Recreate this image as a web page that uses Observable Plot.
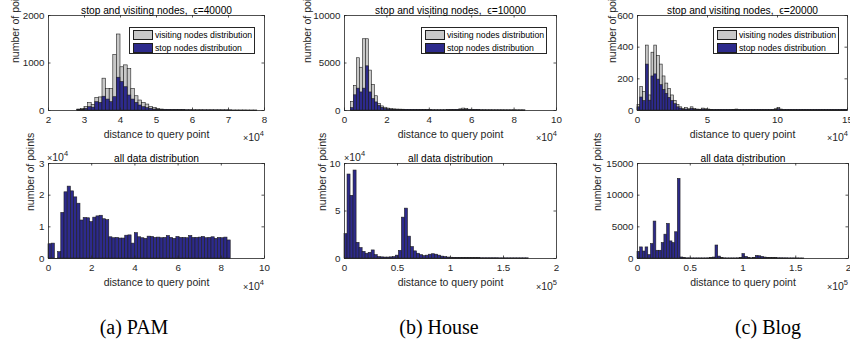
<!DOCTYPE html>
<html><head><meta charset="utf-8">
<script src="https://cdn.jsdelivr.net/npm/d3@7"></script>
<script src="https://cdn.jsdelivr.net/npm/@observablehq/plot@0.6"></script>
<style>
html,body{margin:0;padding:0;background:#fff;overflow:hidden}
#fig{position:relative;width:850px;height:360px;font-family:"Liberation Sans",Arial,sans-serif;color:#262626}
#fig svg{position:absolute;left:0;top:0}
.ov{position:absolute;white-space:nowrap;line-height:1}
.legend{position:absolute;border:0.8px solid #262626;background:#fff;box-sizing:border-box}
.legend .row{position:absolute;left:3px;height:11px;display:flex;align-items:center;font-size:8.7px;color:#000}
.legend .sw{width:20px;height:10px;border:0.8px solid #1e1e1e;box-sizing:border-box;margin-right:2px}
.cap{position:absolute;font-family:"Liberation Serif","Times New Roman",serif;font-size:20px;color:#000;transform:translateX(-50%);white-space:nowrap}
</style></head>
<body><div id="fig"></div>
<script>
// ---- data (bin start, bin width, counts) ----
const pamSVStart = 28000, pamSVWidth = 1000;
const pamVisit = [20,35,70,155,120,265,275,670,450,455,1170,1600,910,950,870,455,300,210,160,125,70,50,35,20,15,12,10,10,8,8,6,6,5,5,5,4,4,4,3,3,3,3,2,2,2,2,2,1,1,1];
const pamStop  = [10,15,35,70,60,175,160,290,230,175,280,690,600,490,315,230,160,105,70,50,35,20,15,10,5,4,3,3,2,2,2,2,1,1,1,1,1,1,1,1,1,1,1,0,0,0,0,0,0,0];

const houseSVStart = 3000, houseSVWidth = 1420;
const houseVisit = [900,2600,5500,4500,7500,7500,4200,2700,1500,700,430,290,200,150,120,100,90,80,70,60,55,50,45,40,40,35,35,30,30,30,30,30,35,40,50,60,120,200,150,80,50,40,35,30,30,25,25,20,20,20,20,15,15,15,15,10,10,10];
const houseStop  = [250,1600,2300,1900,2300,4650,1900,1200,850,500,280,170,110,80,60,50,40,35,30,25,20,18,16,14,12,10,10,10,8,8,8,8,10,12,15,20,40,70,50,25,15,12,10,8,8,6,6,5,5,5,4,4,4,4,3,3,3,3];

const blogSVStart = 0, blogSVWidth = 2000;
const blogVisit = [35,148,117,410,95,365,410,345,290,215,170,135,95,60,35,20,10,15,8,20,10,6,5,12,8,6,4,3,3,3,2,2,3,3,4,6,3,2,2,2,2,2,2,2,2,2,2,2,3,8,15,6,3,2,2,2,2,2,2,2,2,2,2,2,2,2,2,2,2,2,2,2,2,2,2];
const blogStop  = [20,82,60,290,62,215,228,195,160,130,105,80,60,40,20,12,5,6,3,10,5,3,2,6,4,3,2,1,1,1,1,1,1,1,2,3,1,1,1,1,1,1,1,1,1,1,1,1,1,4,8,3,1,1,1,1,1,1,1,1,1,1,1,1,1,1,1,1,1,1,1,1,1,1,1];

const pamAllStart = 0, pamAllWidth = 1480;
const pamAll = [4500,4700,0,2000,14400,20900,22700,21200,19300,17300,12000,12800,12700,11500,12900,13300,13500,12400,12100,6700,6400,6500,6300,6300,7200,7300,4700,8000,6700,6400,6200,6900,6800,6500,6600,6400,6500,7100,6500,6200,6800,6500,6500,6400,7100,6500,6500,6600,6800,6400,6500,6700,6200,6500,6400,6600,5700];

const houseAllStart = 0, houseAllWidth = 2850;
const houseAll = [25600,88400,66000,92600,16500,11000,7000,5000,6000,8500,3500,1500,1200,1000,1000,1200,1500,3000,8000,43000,52500,23000,12000,7500,5000,3500,2500,3000,4000,4500,4000,3000,2000,1500,1000,800,700,600,500,500,500,400,400,400,400,300,300,300,300,300,300,200,200,200,200,200,200,200,200,200,200];

const blogAllStart = 0, blogAllWidth = 2550;
const blogAll = [1060,1750,1100,1750,530,2280,5830,1220,1220,2440,3760,5460,2700,2440,4140,12570,160,50,30,30,20,20,20,20,20,20,30,50,150,2050,300,50,30,20,20,20,20,30,50,700,250,50,30,100,400,350,250,150,100,80,60,50,40,40,30,30,20,20,20,20,10,10];

// tick values
const xTicksPam = [20000,30000,40000,50000,60000,70000,80000];
const xTicksHouse = [0,20000,40000,60000,80000,100000];
const xTicksBlog = [0,50000,100000,150000];
const xTicksAll = [0,20000,40000,60000,80000,100000];
const xTicksAll5 = [0,50000,100000,150000,200000];
const yTicksPam = [0,1000,2000], yTicksHouse = [0,5000,10000], yTicksBlog = [0,200,400,600];
const yTicksPamAll = [0,10000,20000,30000], yTicksHouseAll = [0,50000,100000], yTicksBlogAll = [0,5000,10000,15000];

const titles = ["stop and visiting nodes,  \u03F5=40000","stop and visiting nodes,  \u03F5=10000","stop and visiting nodes,  \u03F5=20000","all data distribution"];
const legendLabels = ["visiting nodes distribution","stop nodes distribution"];
const captions = ["(a) PAM","(b) House","(c) Blog"];

// ---- styles ----
const AX = "#262626", GRAY = "#c8c8c8", BLUE = "#2d2a8c", EDGE = "#1e1e1e";
const fig = document.getElementById("fig");

function bins(start, width, values){ return values.map((v,i)=>({a:start+i*width, b:start+(i+1)*width, v})); }

function panel(o){
  const fw = o.x1-o.x0, fh = o.y1-o.y0, TL = 2.5;
  const marks = [];
  for (const s of o.series){
    const d = bins(s.start, s.width, s.values);
    marks.push(Plot.ruleY([0], {x1: () => d[0].a, x2: () => d[d.length-1].b, stroke: EDGE, strokeWidth: 0.8}));
    marks.push(Plot.rectY(d, {x1:"a", x2:"b", y:"v", fill:s.fill, stroke:EDGE, strokeWidth:0.6}));
  }
  marks.push(Plot.frame({stroke:AX, strokeWidth:0.8}));
  marks.push(Plot.ruleX(o.xTicks, {x:d=>d, insetTop: fh-TL, stroke:AX, strokeWidth:0.8}));
  marks.push(Plot.ruleX(o.xTicks, {x:d=>d, insetBottom: fh-TL, stroke:AX, strokeWidth:0.8}));
  marks.push(Plot.ruleY(o.yTicks, {y:d=>d, insetRight: fw-TL, stroke:AX, strokeWidth:0.8}));
  marks.push(Plot.ruleY(o.yTicks, {y:d=>d, insetLeft: fw-TL, stroke:AX, strokeWidth:0.8}));
  marks.push(Plot.text(o.xTicks, {x:d=>d, text:o.xFmt, frameAnchor:"bottom", dy:12, fontSize:9.8, fill:AX}));
  marks.push(Plot.text(o.yTicks, {y:d=>d, text:o.yFmt, frameAnchor:"left", dx:-4, textAnchor:"end", fontSize:9.8, fill:AX}));
  marks.push(Plot.text(["distance to query point"], {frameAnchor:"bottom", dy:27, fontSize:10.5, fill:AX}));
  marks.push(Plot.text(["number of points"], {frameAnchor:"left", dx:-(o.x0-o.ylabX), rotate:-90, fontSize:10.5, fill:AX}));
  marks.push(Plot.text([o.title], {frameAnchor:"top", dy:-9, fontSize:10.2, fill:"#000"}));
  const svg = Plot.plot({
    width:850, height:360,
    marginLeft:o.x0, marginRight:850-o.x1, marginTop:o.y0, marginBottom:360-o.y1,
    x:{domain:o.xDomain, axis:null},
    y:{domain:o.yDomain, axis:null},
    style:{background:"transparent", fontFamily:"Liberation Sans, Arial, sans-serif", overflow:"visible"},
    marks
  });
  fig.appendChild(svg);
}

function ov(html, left, top, size, anchorRight){
  const el = document.createElement("div");
  el.className = "ov";
  el.innerHTML = html;
  el.style.fontSize = size + "px";
  el.style.top = top + "px";
  if (anchorRight) el.style.right = (850 - left) + "px"; else el.style.left = left + "px";
  fig.appendChild(el);
}
function exp10(p){ return '<span style="font-size:9px">\u00D7</span>10<sup style="font-size:7.5px;vertical-align:5px">' + p + '</sup>'; }

function legend(left, top){
  const el = document.createElement("div");
  el.className = "legend";
  Object.assign(el.style, {left:left+"px", top:top+"px", width:"126px", height:"27px"});
  [[GRAY, legendLabels[0], 1.5], [BLUE, legendLabels[1], 14]].forEach(([c, t, y]) => {
    const r = document.createElement("div"); r.className = "row"; r.style.top = y + "px";
    const sw = document.createElement("div"); sw.className = "sw"; sw.style.background = c;
    const tx = document.createElement("span"); tx.textContent = t;
    r.appendChild(sw); r.appendChild(tx); el.appendChild(r);
  });
  fig.appendChild(el);
}

const f4 = d => String(d/1e4), f5 = d => String(d/1e5), fi = d => String(d);

panel({x0:48,x1:264,y0:15,y1:110,ylabX:15,xDomain:[20000,80000],yDomain:[0,2000],xTicks:xTicksPam,yTicks:yTicksPam,xFmt:f4,yFmt:fi,title:titles[0],
  series:[{start:pamSVStart,width:pamSVWidth,values:pamVisit,fill:GRAY},{start:pamSVStart,width:pamSVWidth,values:pamStop,fill:BLUE}]});
panel({x0:344,x1:556,y0:15,y1:110,ylabX:307,xDomain:[0,100000],yDomain:[0,10000],xTicks:xTicksHouse,yTicks:yTicksHouse,xFmt:f4,yFmt:fi,title:titles[1],
  series:[{start:houseSVStart,width:houseSVWidth,values:houseVisit,fill:GRAY},{start:houseSVStart,width:houseSVWidth,values:houseStop,fill:BLUE}]});
panel({x0:637,x1:847,y0:15,y1:110,ylabX:612,xDomain:[0,150000],yDomain:[0,600],xTicks:xTicksBlog,yTicks:yTicksBlog,xFmt:f4,yFmt:fi,title:titles[2],
  series:[{start:blogSVStart,width:blogSVWidth,values:blogVisit,fill:GRAY},{start:blogSVStart,width:blogSVWidth,values:blogStop,fill:BLUE}]});
panel({x0:48,x1:264,y0:163,y1:258,ylabX:30,xDomain:[0,100000],yDomain:[0,30000],xTicks:xTicksAll,yTicks:yTicksPamAll,xFmt:f4,yFmt:f4,title:titles[3],
  series:[{start:pamAllStart,width:pamAllWidth,values:pamAll,fill:BLUE}]});
panel({x0:344,x1:556,y0:163,y1:258,ylabX:322,xDomain:[0,200000],yDomain:[0,100000],xTicks:xTicksAll5,yTicks:yTicksHouseAll,xFmt:f5,yFmt:f4,title:titles[3],
  series:[{start:houseAllStart,width:houseAllWidth,values:houseAll,fill:BLUE}]});
panel({x0:637,x1:848,y0:163,y1:258,ylabX:597,xDomain:[0,200000],yDomain:[0,15000],xTicks:xTicksAll5,yTicks:yTicksBlogAll,xFmt:f5,yFmt:fi,title:titles[3],
  series:[{start:blogAllStart,width:blogAllWidth,values:blogAll,fill:BLUE}]});

legend(129,27); legend(421,27); legend(713,27);

ov(exp10(4), 264, 130, 10.5, true);
ov(exp10(4), 557, 130, 10.5, true);
ov(exp10(4), 848, 130, 10.5, true);
ov(exp10(4), 47, 150, 10.5, false);
ov(exp10(4), 344, 150, 10.5, false);
ov(exp10(4), 264, 279, 10.5, true);
ov(exp10(5), 557, 279, 10.5, true);
ov(exp10(5), 848, 279, 10.5, true);

[[134,captions[0]],[439,captions[1]],[768,captions[2]]].forEach(([x,t])=>{
  const c = document.createElement("div"); c.className="cap"; c.textContent=t;
  c.style.left = x+"px"; c.style.top = "316px"; fig.appendChild(c);
});
</script></body></html>
